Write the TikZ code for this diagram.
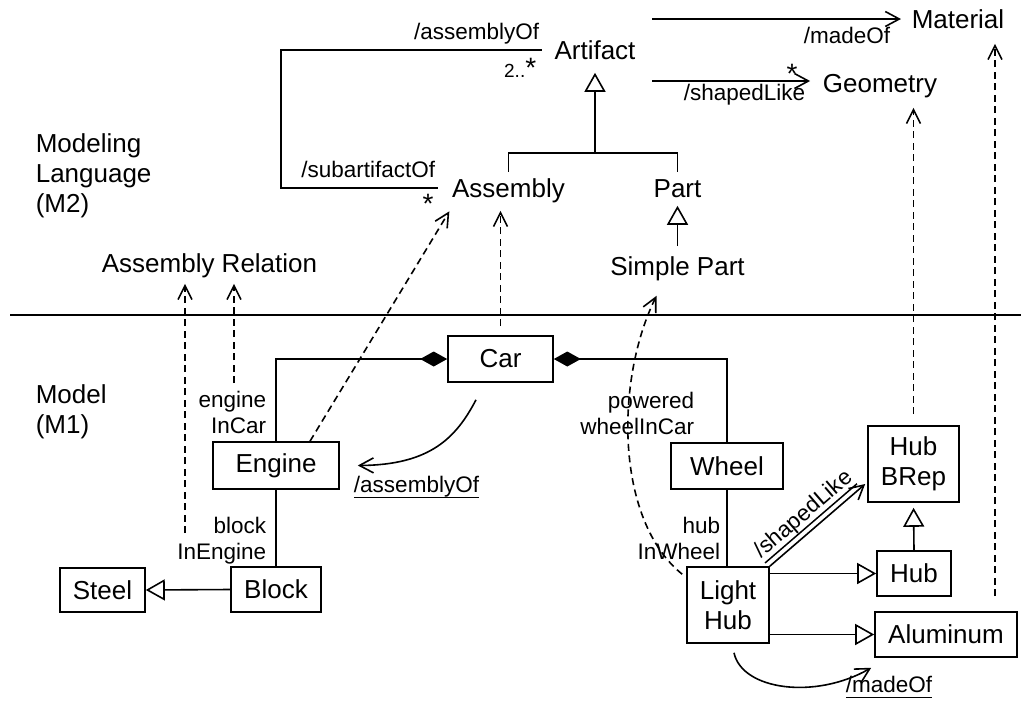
\documentclass[tikz,border=0pt]{standalone}
\usepackage{fontspec}
\setmainfont{Liberation Sans}
\usetikzlibrary{arrows.meta}
\newcommand{\clsfont}{\fontsize{26}{30.5}\selectfont}
\newcommand{\rolefont}{\fontsize{22.5}{26}\selectfont}
\newcommand{\multfont}{\fontsize{19}{22}\selectfont}
\newcommand{\starfont}{\fontsize{28}{30}\selectfont}
% text with a heavier underline
\newcommand{\ulinetext}[1]{\setbox0\hbox{#1}\leavevmode\rlap{\copy0}\rule[-6pt]{\wd0}{1.5pt}}

\begin{document}
\begin{tikzpicture}[x=1pt,y=-1pt, line width=1.6pt,
  cls/.style={font=\clsfont, inner sep=0pt, text height=19pt, text depth=0pt},
  box/.style={draw, font=\clsfont, inner sep=0pt, align=center},
  role/.style={font=\rolefont, inner sep=0pt, align=right},
  title/.style={font=\fontsize{26}{30}\selectfont, inner sep=0pt, align=left},
  mult/.style={font=\starfont, inner sep=0pt},
  gen/.style={-{Triangle[open,length=19pt,width=21pt]}},
  assoc/.style={-{Straight Barb[length=14pt,width=15pt]}},
  comp/.style={-{Diamond[length=27pt,width=15pt]}},
  inst/.style={dash pattern=on 7pt off 4.5pt, -{Straight Barb[length=14pt,width=14pt]}},
]
\useasboundingbox (0,0) rectangle (1021,702);

% ---------- modeling language (M2) ----------
\node[cls] (artifact) at (595,50) {Artifact};
\node[cls] (assembly) at (508.5,188) {Assembly};
\node[cls] (part) at (677.5,188) {Part};
\node[cls] (simplepart) at (677.5,265.5) {Simple Part};
\node[cls] (asmrel) at (209.5,262.5) {Assembly Relation};
\node[cls] (material) at (958,18.5) {Material};
\node[cls] (geometry) at (880,82.5) {Geometry};

% level titles (base anchor sits on the last line)
\node[title, anchor=base west] (m2title) at (35,212) {Modeling\\Language\\(M2)};
\node[title, anchor=base west] (m1title) at (35,433) {Model\\(M1)};

% separator between the two levels
\coordinate (sepL) at (10,315);
\coordinate (sepR) at (1021,315);
\draw (sepL) -- (sepR);

% assembly association loop
\draw ([xshift=-12pt]artifact.west) -- ++(-260.5,0) |- ([xshift=-13pt]assembly.west);
\node[role, anchor=base east] (lblAssemblyOf) at (540,39) {/assemblyOf};
\node[inner sep=0pt, anchor=base east] (mult2) at (537,77) {\multfont 2..\starfont *};
\node[role, anchor=base east] (lblSubartifact) at (436,177) {/subartifactOf};
\node[mult, anchor=base] (multStar) at (428,213) {*};

% generalization tree
\coordinate (genjoin) at (595,153);
\draw ([yshift=6pt]assembly.north) |- (genjoin);
\draw ([yshift=6pt]part.north) |- (genjoin);
\draw[gen, shorten >=12.5pt] (genjoin) -- (artifact.south);
\draw[gen, shorten <=9pt, shorten >=7.5pt] (simplepart.north) -- (part.south);

% artifact associations
\coordinate (madeofstart) at (652,19);
\coordinate (shapedstart) at (652,81);
\draw[assoc, shorten >=10pt] (madeofstart) -- (madeofstart -| material.west);
\draw[assoc, shorten >=12pt] (shapedstart) -- (shapedstart -| geometry.west);
\node[role, anchor=base west] (lblMadeOf) at (803,43) {/madeOf};
\node[role, anchor=base west] (lblShaped) at (683,100) {/shapedLike};
\node[mult, anchor=base] (multGeo) at (792,83) {*};

% ---------- model (M1) ----------
\node[box, minimum width=105pt, minimum height=46pt] (car) at (500.5,359) {Car};
\node[box, minimum width=126pt, minimum height=47pt] (engine) at (276,465.5) {Engine};
\node[box, minimum width=90pt, minimum height=45pt] (block) at (276,589.5) {Block};
\node[box, minimum width=85pt, minimum height=44pt] (steel) at (102.5,590) {Steel};
\node[box, minimum width=112pt, minimum height=46pt] (wheel) at (727,466) {Wheel};
\node[box, minimum width=82pt, minimum height=76pt] (lighthub) at (728,605) {Light\\Hub};
\node[box, minimum width=91pt, minimum height=76pt] (hubbrep) at (913.5,464) {Hub\\BRep};
\node[box, minimum width=74pt, minimum height=45pt] (hub) at (914,573.5) {Hub};
\node[box, minimum width=142pt, minimum height=45pt] (aluminum) at (946,634.5) {Aluminum};

% role names (base anchor sits on the second line)
\node[role, anchor=base east] (engineInCar) at (267,433) {engine\\InCar};
\node[role, anchor=base east] (blockInEngine) at (267,559) {block\\InEngine};
\node[role, anchor=base east] (poweredWheel) at (695,434) {powered\\wheelInCar};
\node[role, anchor=base east] (hubInWheel) at (721,559) {hub\\InWheel};

% compositions and associations
\draw[comp] (engine.north) |- (car.west);
\draw[comp] (wheel.north) |- (car.east);
\draw (engine.south) -- (block.north);
\draw (wheel.south) -- (wheel.south |- lighthub.north);

% specializations
\draw[gen] (block.west) -- (steel.east);
\draw[gen] (lighthub.east |- hub.west) -- (hub.west);
\draw[gen] (lighthub.east |- aluminum.west) -- (aluminum.west);
\draw[gen, shorten >=5pt] (hub.north) -- (hubbrep.south);

% instance links
\draw[assoc] (lighthub.north east) -- node[role, sloped, above=4pt, pos=0.47] (lblShapedInst) {\ulinetext{/shapedLike}} ([xshift=-2pt,yshift=-20pt]hubbrep.west);
\draw[assoc] ([xshift=-24.5pt,yshift=-17pt]car.south) .. controls (456,438) and (430,465) .. ([xshift=18pt]engine.east);
\node[role, anchor=base] (lblAsmOfInst) at (416.5,492) {\ulinetext{/assemblyOf}};
\draw[assoc] ([xshift=6pt,yshift=-9pt]lighthub.south) .. controls (742,690) and (815,700) .. ([xshift=-3pt,yshift=-10pt]aluminum.south west);
\node[role, anchor=base] (lblMadeOfInst) at (889,692) {\ulinetext{/madeOf}};

% instance-of dependencies
\draw[inst, shorten <=9pt, shorten >=12.5pt] (car.north) -- (car.north |- assembly.south);
\draw[inst] ([xshift=34pt]engine.north) -- ([xshift=-2pt,yshift=-13pt]assembly.south west);
\draw[inst] ([xshift=-4pt,yshift=-8pt]lighthub.north west) .. controls (615,520) and (615,380) .. ([xshift=-21pt,yshift=-20pt]simplepart.south);
\draw[inst, shorten <=11pt, shorten >=15pt] (hubbrep.north) -- (hubbrep.north |- geometry.south);
\coordinate (alutop) at ([xshift=49pt]aluminum.north);
\draw[inst, shorten <=15pt, shorten >=15pt] (alutop) -- (alutop |- material.south);
\coordinate (blockrole) at (185,533);
\coordinate (enginerole) at (234,383);
\draw[inst, shorten >=11pt] (blockrole) -- (blockrole |- asmrel.south);
\draw[inst, shorten >=11pt] (enginerole) -- (enginerole |- asmrel.south);
\end{tikzpicture}
\end{document}
